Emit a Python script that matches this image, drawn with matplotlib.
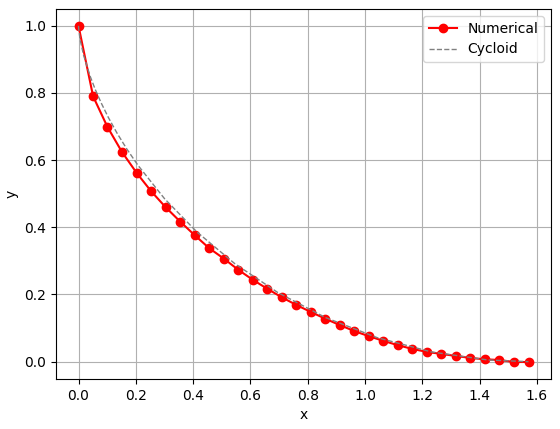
import matplotlib
matplotlib.use('Agg')
import matplotlib.pyplot as plt

# numerical solution
x_num = [0.000, 0.051, 0.101, 0.152, 0.203, 0.253, 0.304, 0.355, 0.405, 0.456,
         0.507, 0.557, 0.608, 0.659, 0.709, 0.760, 0.811, 0.861, 0.912, 0.963,
         1.013, 1.064, 1.115, 1.165, 1.216, 1.267, 1.317, 1.368, 1.419, 1.469,
         1.520, 1.571]
y_num = [1.000, 0.790, 0.699, 0.624, 0.562, 0.508, 0.460, 0.417, 0.377, 0.338,
         0.307, 0.274, 0.244, 0.217, 0.192, 0.169, 0.148, 0.128, 0.109, 0.091,
         0.076, 0.062, 0.049, 0.038, 0.029, 0.023, 0.017, 0.011, 0.007, 0.005,
         -0.001, -0.001]

# reference cycloid curve
x_cyc = [0.000, 0.0007, 0.0053, 0.0177, 0.0413, 0.0583, 0.0793, 0.1044, 0.1340,
         0.1682, 0.2073, 0.3002, 0.4131, 0.5454, 0.6958, 0.8623, 1.0423, 1.2325,
         1.4294, 1.5708]
y_cyc = [1.000, 0.9900, 0.9605, 0.9127, 0.8484, 0.8108, 0.7702, 0.7268, 0.6812,
         0.6338, 0.5850, 0.4854, 0.3864, 0.2919, 0.2058, 0.1313, 0.0716, 0.0289,
         0.0050, 0.000]

fig, ax = plt.subplots(figsize=(5.6, 4.29), dpi=100)
fig.subplots_adjust(left=0.1, right=0.984, top=0.979, bottom=0.117)

ax.plot(x_num, y_num, 'o-', color='red', label='Numerical')
ax.plot(x_cyc, y_cyc, '--', color='gray', linewidth=1, label='Cycloid')
ax.set_xlabel('x')
ax.set_ylabel('y')
ax.grid(True)
ax.legend(loc='upper right')

plt.savefig('out.png')
